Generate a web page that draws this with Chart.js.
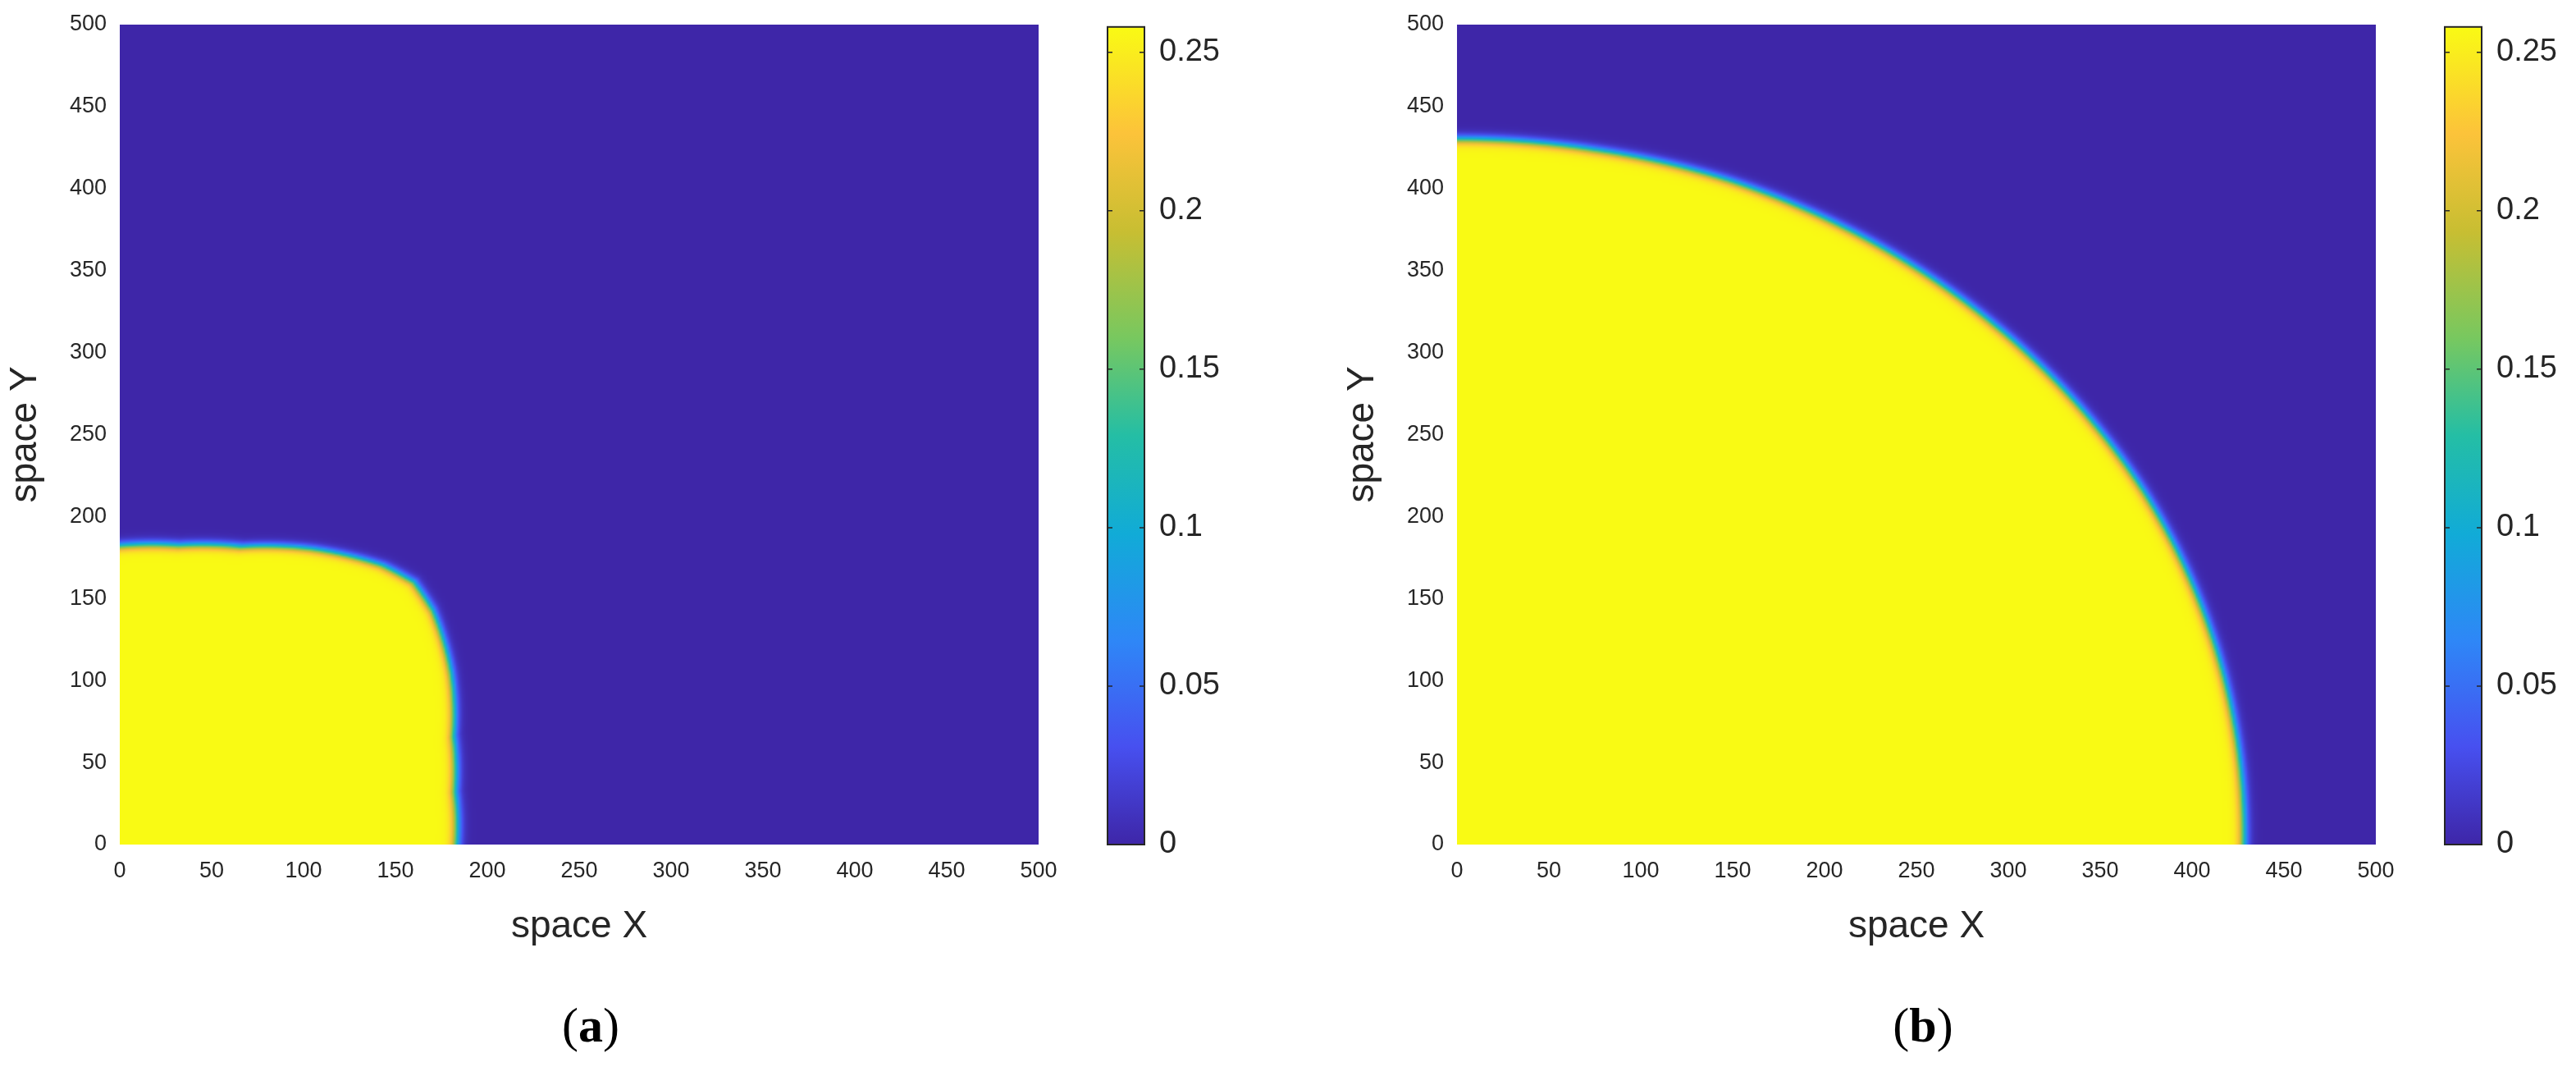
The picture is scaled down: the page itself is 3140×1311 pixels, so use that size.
<!DOCTYPE html>
<html><head><meta charset="utf-8">
<script src="https://cdn.jsdelivr.net/npm/chart.js@4"></script>
<style>
body{margin:0;width:3140px;height:1311px;background:#fff;overflow:hidden;position:relative;font-family:"Liberation Serif",serif}
canvas{position:absolute;top:0}
.lab{position:absolute;top:1215px;font-size:60px;color:#000;width:200px;text-align:center}
</style></head><body>
<canvas id="h1" width="1570" height="1311" style="left:0"></canvas>
<canvas id="c1" width="300" height="1311" style="left:1270px"></canvas>
<canvas id="h2" width="1570" height="1311" style="left:1630px"></canvas>
<canvas id="c2" width="300" height="1311" style="left:2900px"></canvas>
<div class="lab" style="left:620px">(<b>a</b>)</div>
<div class="lab" style="left:2244px">(<b>b</b>)</div>
<script>
// Axis ticks
const axisTicks = [0,50,100,150,200,250,300,350,400,450,500];
const cbTicks = [0,0.05,0.1,0.15,0.2,0.25];
const cbMax = 0.258;
const frontAngles = [0,10,20,30,40,45,50,60,70,80,90];
const frontRadiusA = [183,185,193,208,222,226,222,208,193,185,182];
const frontRadiusB = [428,429,430,431,431,431,431,431,431,430,430];
const innerValue = 0.258;
const frontWidth = 3.2;
// Parula-like colormap stops
const cmapPos = [0,0.12,0.25,0.38,0.5,0.62,0.75,0.87,1];
const cmapCol = [[62,38,168],[71,80,240],[46,135,247],[17,171,215],[36,190,165],[120,200,95],[200,190,50],[252,195,58],[249,250,20]];

function cmap(t){t=Math.max(0,Math.min(1,t));
  for(let i=1;i<cmapPos.length;i++){if(t<=cmapPos[i]){const f=(t-cmapPos[i-1])/(cmapPos[i]-cmapPos[i-1]);const a=cmapCol[i-1],b=cmapCol[i];return [a[0]+(b[0]-a[0])*f,a[1]+(b[1]-a[1])*f,a[2]+(b[2]-a[2])*f];}}
  return cmapCol[cmapCol.length-1];}
function frontAt(deg,R){for(let i=1;i<frontAngles.length;i++){if(deg<=frontAngles[i]){const f=(deg-frontAngles[i-1])/(frontAngles[i]-frontAngles[i-1]);return R[i-1]+(R[i]-R[i-1])*f;}}return R[R.length-1];}
function field(R){const N=500,off=document.createElement('canvas');off.width=N;off.height=N;const c=off.getContext('2d');const img=c.createImageData(N,N);
  for(let j=0;j<N;j++){const y=N-j-0.5;for(let i=0;i<N;i++){const x=i+0.5;const r=Math.hypot(x,y);const deg=Math.atan2(y,x)*180/Math.PI;const rf=frontAt(deg,R);
    const u=innerValue*0.5*(1-Math.tanh((r-rf)/frontWidth));const col=cmap(u/cbMax);const k=(j*N+i)*4;img.data[k]=col[0];img.data[k+1]=col[1];img.data[k+2]=col[2];img.data[k+3]=255;}}
  c.putImageData(img,0,0);return off;}

const tickFont={family:"'Liberation Sans Narrow','Liberation Sans',sans-serif",size:27};
const titleFont={family:"'Liberation Sans',Arial,sans-serif",size:46};
function heat(id,R){const off=field(R);
  new Chart(document.getElementById(id),{type:'scatter',data:{datasets:[{data:[]}]},
  options:{responsive:false,animation:false,devicePixelRatio:1,
   layout:{padding:{top:30,right:304,left:0,bottom:150}},
   plugins:{legend:{display:false},tooltip:{enabled:false}},
   scales:{
    x:{type:'linear',min:0,max:500,afterBuildTicks:s=>{s.ticks=axisTicks.map(v=>({value:v}))},grid:{display:false},border:{display:false},
       ticks:{font:tickFont,color:'#262626',padding:8,maxRotation:0},afterFit:s=>{s.height=132},
       title:{display:true,text:'space X',font:titleFont,color:'#262626',padding:{top:14}}},
    y:{type:'linear',min:0,max:500,afterBuildTicks:s=>{s.ticks=axisTicks.map(v=>({value:v}))},grid:{display:false},border:{display:false},
       ticks:{font:tickFont,color:'#262626',padding:8},afterFit:s=>{s.width=146},
       title:{display:true,text:'space Y',font:titleFont,color:'#262626',padding:{bottom:10}}}}},
  plugins:[{id:'hm',beforeDatasetsDraw(ch){const x=ch.scales.x,y=ch.scales.y,c=ch.ctx;
    const l=x.getPixelForValue(0),r=x.getPixelForValue(500),t=y.getPixelForValue(500),b=y.getPixelForValue(0);
    c.imageSmoothingEnabled=true;c.drawImage(off,l,t,r-l,b-t);}}]});}
function cbar(id){new Chart(document.getElementById(id),{type:'scatter',data:{datasets:[{data:[]}]},
  options:{responsive:false,animation:false,devicePixelRatio:1,
   layout:{padding:{top:30,left:80,right:0,bottom:282}},
   plugins:{legend:{display:false},tooltip:{enabled:false}},
   scales:{x:{display:false,min:0,max:1,afterFit:s=>{s.height=0}},
    y:{position:'right',min:0,max:cbMax,afterBuildTicks:s=>{s.ticks=cbTicks.map(v=>({value:v}))},grid:{display:false},border:{display:false},
      ticks:{font:{family:"'Liberation Sans',Arial,sans-serif",size:38},color:'#262626',padding:10,callback:v=>String(v)},afterFit:s=>{s.width=175}}}},
  plugins:[{id:'cb',beforeDatasetsDraw(ch){const a=ch.chartArea,y=ch.scales.y,c=ch.ctx;
    const b=y.getPixelForValue(0),t=y.getPixelForValue(cbMax);const g=c.createLinearGradient(0,b,0,t);
    cmapPos.forEach((p,i)=>g.addColorStop(p,`rgb(${cmapCol[i].join(',')})`));
    c.fillStyle=g;c.fillRect(a.left,t,a.right-a.left,b-t);c.strokeStyle='#262626';c.lineWidth=2;c.strokeRect(a.left,t,a.right-a.left,b-t);
    c.lineWidth=1.5;cbTicks.forEach(v=>{const py=y.getPixelForValue(v);c.beginPath();c.moveTo(a.left,py);c.lineTo(a.left+6,py);c.moveTo(a.right,py);c.lineTo(a.right-6,py);c.stroke();});}}]});}
heat('h1',frontRadiusA);heat('h2',frontRadiusB);cbar('c1');cbar('c2');
</script></body></html>
